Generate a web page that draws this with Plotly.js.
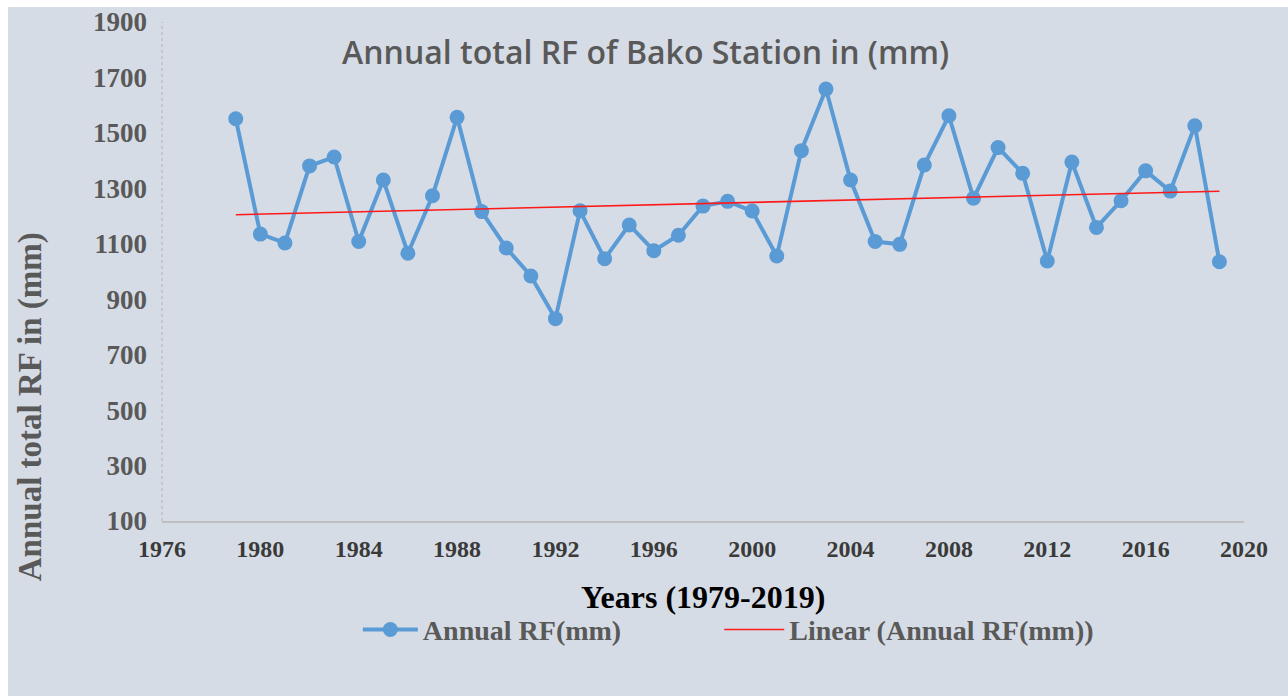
<!DOCTYPE html>
<html>
<head>
<meta charset="utf-8">
<script src="https://cdn.plot.ly/plotly-3.0.1.min.js"></script>
<style>
html,body{margin:0;padding:0;background:#ffffff;}
#chart{position:absolute;left:8px;top:7px;width:1280px;height:689px;}
</style>
</head>
<body>
<div id="chart"></div>
<script>
const years = [1979,1980,1981,1982,1983,1984,1985,1986,1987,1988,1989,1990,1991,1992,1993,1994,1995,1996,1997,1998,1999,2000,2001,2002,2003,2004,2005,2006,2007,2008,2009,2010,2011,2012,2013,2014,2015,2016,2017,2018,2019];
const annualRF = [1551,1135,1103,1381,1413,1108,1330,1066,1273,1556,1216,1085,984,830,1219,1046,1168,1075,1131,1236,1253,1218,1056,1436,1658,1330,1108,1098,1384,1562,1264,1447,1354,1038,1395,1159,1255,1363,1290,1526,1035];
const seriesName = "Annual RF(mm)";
const trendName = "Linear (Annual RF(mm))";
const chartTitle = "Annual total RF of Bako Station in (mm)";
const xTitle = "Years (1979-2019)";
const yTitle = "Annual total RF in (mm)";

// least-squares linear trend of the series
const n = years.length;
const mx = years.reduce((a,b)=>a+b,0)/n;
const my = annualRF.reduce((a,b)=>a+b,0)/n;
let sxy=0, sxx=0;
for(let i=0;i<n;i++){sxy+=(years[i]-mx)*(annualRF[i]-my); sxx+=(years[i]-mx)*(years[i]-mx);}
const slope = sxy/sxx, icpt = my - slope*mx;
const trendX = [years[0], years[n-1]];
const trendY = trendX.map(x=>icpt+slope*x);

const traces = [
  {x: years, y: annualRF, name: seriesName, type:'scatter', mode:'lines+markers', legend:'legend',
   line:{color:'#5b9bd5', width:4}, marker:{color:'#5b9bd5', size:15}},
  {x: trendX, y: trendY, name: trendName, type:'scatter', mode:'lines', legend:'legend2',
   line:{color:'#ff1a1a', width:1.6}}
];

const bg = '#d6dce5';
const serif = 'Liberation Serif, Times New Roman, serif';
const legendFont = {family:serif, size:28, color:'#595959', weight:'bold'};
const layout = {
  width:1280, height:689,
  paper_bgcolor: bg, plot_bgcolor: bg,
  margin:{l:154, r:44, t:15, b:175},
  showlegend:true,
  title:{text: chartTitle, x:0.447, xref:'paper', y:0.938, yref:'paper', xanchor:'center', yanchor:'middle',
         font:{family:'Open Sans, sans-serif', size:32, color:'#595959', weight:600}},
  xaxis:{range:[1976,2020], tick0:1976, dtick:4, tickformat:'d', showgrid:false, zeroline:false,
         showline:true, linecolor:'#bfbfbf', linewidth:2, ticks:'', ticklabelstandoff:5,
         tickfont:{family:serif, size:24, color:'#3a3a3a', weight:'bold'}},
  yaxis:{range:[100,1900], tick0:100, dtick:200, showgrid:false, zeroline:false, showline:false, ticks:'',
         ticklabelstandoff:14, ticklabeloverflow:'allow',
         tickfont:{family:serif, size:27, color:'#595959', weight:'bold'}},
  shapes:[{type:'line', xref:'paper', yref:'paper', x0:0, x1:0, y0:0, y1:1,
           line:{color:'#bfbfbf', width:1.5, dash:'dot'}}],
  annotations:[
    {text: xTitle, xref:'paper', yref:'paper', x:0.5, y:-0.152, xanchor:'center', yanchor:'middle', showarrow:false,
     font:{family:serif, size:32, color:'#000000', weight:'bold'}},
    {text: yTitle, xref:'paper', yref:'paper', x:-0.122, y:0.23, xanchor:'center', yanchor:'middle', showarrow:false,
     textangle:-90, font:{family:serif, size:33, color:'#595959', weight:'bold'}}
  ],
  legend:{orientation:'h', x:0.181, xanchor:'left', y:-0.218, yanchor:'middle', bgcolor:'rgba(0,0,0,0)',
          itemwidth:55, font:legendFont},
  legend2:{orientation:'h', x:0.515, xanchor:'left', y:-0.218, yanchor:'middle', bgcolor:'rgba(0,0,0,0)',
          itemwidth:60, font:legendFont}
};
Plotly.newPlot('chart', traces, layout, {displayModeBar:false, staticPlot:true});
</script>
</body>
</html>
